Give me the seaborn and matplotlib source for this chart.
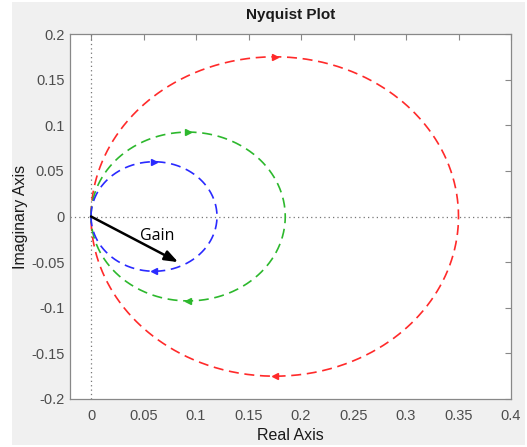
import numpy as np
import pandas as pd
import matplotlib
matplotlib.use("Agg")
import matplotlib.pyplot as plt
from matplotlib.patches import Rectangle
import seaborn as sns

# DC gains of the three first-order systems G(s) = K / (s + 1)
gains = [0.35, 0.185, 0.12]
series_names = ["K = 0.35", "K = 0.185", "K = 0.12"]
colors = ["#ff2a2a", "#2db82d", "#2a2aff"]
gain_arrow_end = (0.083, -0.05)
gain_label = "Gain"
x_ticks = [0, 0.05, 0.1, 0.15, 0.2, 0.25, 0.3, 0.35, 0.4]
y_ticks = [-0.2, -0.15, -0.1, -0.05, 0, 0.05, 0.1, 0.15, 0.2]

# Frequency response (Nyquist) from -inf to +inf
w_pos = np.logspace(-3, 3, 600)
w = np.concatenate([-w_pos[::-1], w_pos])
rows = []
for name, K in zip(series_names, gains):
    G = K / (1 + 1j * w)
    rows.append(pd.DataFrame({"re": G.real, "im": G.imag, "sys": name,
                              "order": np.arange(len(w))}))
df = pd.concat(rows, ignore_index=True)

sns.set_style("white")
plt.rcParams['font.family'] = ['Liberation Sans', 'DejaVu Sans']

fig = plt.figure(figsize=(5.27, 4.47), dpi=100)
fig.patch.set_facecolor("white")
bg = Rectangle((12 / 527, 2 / 447), 513 / 527, 443 / 447,
               transform=fig.transFigure, facecolor="#f0f0f0",
               edgecolor="none", zorder=-10)
fig.patches.append(bg)
ax = fig.add_axes([70 / 527, 48 / 447, 441 / 527, 365 / 447])
ax.set_facecolor("white")

ax.axhline(0, color="#777777", lw=0.9, ls=(0, (1, 2.5)), zorder=1)
ax.axvline(0, color="#777777", lw=0.9, ls=(0, (1, 2.5)), zorder=1)

sns.lineplot(data=df, x="re", y="im", hue="sys", palette=colors, sort=False,
             estimator=None, units="sys", legend=False, lw=1.2, ax=ax,
             zorder=3)
for line in ax.get_lines()[2:]:
    line.set_dashes((6.0, 3.4))

for K, c in zip(gains, colors):
    ax.plot([K / 2], [K / 2], marker=">", color=c, ms=5, mec=c, zorder=4)
    ax.plot([K / 2], [-K / 2], marker="<", color=c, ms=5, mec=c, zorder=4)

ax.annotate("", xy=gain_arrow_end, xytext=(0, 0),
            arrowprops=dict(arrowstyle="-|>,head_length=0.8,head_width=0.3",
                            color="black", lw=1.8, shrinkA=0, shrinkB=0),
            zorder=5)
ax.text(0.063, -0.021, gain_label, fontsize=11.5, ha="center", va="center",
        color="black", family=['Open Sans', 'DejaVu Sans'])

ax.set_xlim(-0.02, 0.4)
ax.set_ylim(-0.2, 0.2)
ax.set_xticks(x_ticks)
ax.set_xticklabels([f"{t:g}" for t in x_ticks])
ax.set_yticks(y_ticks)
ax.set_yticklabels([f"{t:g}" for t in y_ticks])
ax.tick_params(direction="in", length=4, width=0.8, color="#888888",
               labelcolor="#4d4d4d", labelsize=10.5, top=True, right=True)
ax.tick_params(axis="x", pad=7)
ax.tick_params(axis="y", pad=4)
for s in ax.spines.values():
    s.set_color("#888888")
    s.set_linewidth(0.9)

ax.set_xlabel("Real Axis", fontsize=11.5, color="#1a1a1a", labelpad=4)
ax.set_ylabel("Imaginary Axis", fontsize=11.5, color="#1a1a1a", labelpad=2)
ax.set_title("Nyquist Plot", fontsize=11, fontweight="bold", color="#1a1a1a",
             pad=11)

fig.savefig("out.png", dpi=100, facecolor=fig.get_facecolor())
